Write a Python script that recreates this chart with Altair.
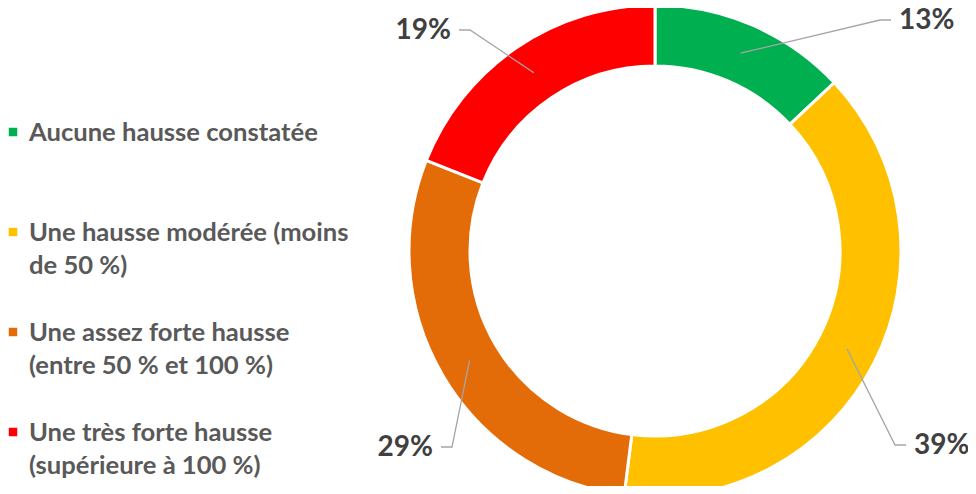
import math
import textwrap
import altair as alt
import pandas as pd

# ---- data ----
categories = [
    "Aucune hausse constatée",
    "Une hausse modérée (moins de 50 %)",
    "Une assez forte hausse (entre 50 % et 100 %)",
    "Une très forte hausse (supérieure à 100 %)",
]
values = [13, 39, 29, 19]
colors = ["#00B050", "#FFC000", "#E36C09", "#FF0000"]

# ---- layout / style ----
W, H = 960, 478
CX, CY = 647, 243          # donut centre (plot coords)
R_OUT, R_IN = 246, 185
R_MID = (245 + 186) / 2
FONT = "Lato"
LEG_FS, LAB_FS = 25.6, 28
LEG_X_SQ, LEG_X_TXT = 5, 21
LEG_BASE0, LEG_STEP = 133, 100
# elbow offsets of leader lines relative to centre (same order as values), run direction
ELBOWS = [(225, -231, 1), (240, 194, 1), (-203, 196, -1), (-185, -221, -1)]
RUN, GAP = 11, 8

df = pd.DataFrame({"cat": categories, "value": values, "idx": range(len(values))})

color_scale = alt.Scale(domain=categories, range=colors)
xs = alt.Scale(domain=[0, W], range=[0, W], nice=False, zero=False)
ys = alt.Scale(domain=[0, H], range=[0, H], nice=False, zero=False)

donut = alt.Chart(df).mark_arc(
    radius=R_OUT, radius2=R_IN, stroke="white", strokeWidth=3
).encode(
    theta=alt.Theta("value:Q", stack=True),
    order=alt.Order("idx:Q"),
    color=alt.Color("cat:N", scale=color_scale, legend=None),
    x=alt.value(CX),
    y=alt.value(CY),
)

# leader lines and labels computed from the values
total = sum(values)
rows, labs = [], []
cum = 0
for i, v in enumerate(values):
    mid = (cum + v / 2) / total * 2 * math.pi
    cum += v
    sx, sy = CX + R_MID * math.sin(mid), CY - R_MID * math.cos(mid)
    ex, ey, d = ELBOWS[i]
    ex, ey = CX + ex, CY + ey
    pts = [(sx, sy), (ex, ey), (ex + d * RUN, ey)]
    for k, (px, py) in enumerate(pts):
        rows.append({"seg": i, "k": k, "px": px, "py": py})
    labs.append({"px": ex + d * (RUN + GAP), "py": ey, "t": f"{v}%",
                 "align": "left" if d > 0 else "right"})
ldf = pd.DataFrame(rows)
tdf = pd.DataFrame(labs)

leaders = alt.Chart(ldf).mark_line(color="#A6A6A6", strokeWidth=1.3).encode(
    x=alt.X("px:Q", scale=xs, axis=None),
    y=alt.Y("py:Q", scale=ys, axis=None),
    detail="seg:N",
    order="k:Q",
)

def label_layer(side):
    return alt.Chart(tdf[tdf["align"] == side]).mark_text(
        font=FONT, fontSize=LAB_FS, fontWeight="bold", color="#404040",
        align=side, baseline="middle", dy=1
    ).encode(x=alt.X("px:Q", scale=xs, axis=None),
             y=alt.Y("py:Q", scale=ys, axis=None), text="t:N")

# legend
leg = df.copy()
leg["lines"] = [textwrap.fill(c, width=25, break_long_words=False) for c in categories]
leg["ly"] = [LEG_BASE0 + i * LEG_STEP for i in range(len(categories))]
leg["sy"] = leg["ly"] - 9

leg_sq = alt.Chart(leg).mark_square(size=72, opacity=1).encode(
    x=alt.value(LEG_X_SQ),
    y=alt.Y("sy:Q", scale=ys, axis=None),
    color=alt.Color("cat:N", scale=color_scale, legend=None),
)
leg_txt = alt.Chart(leg).mark_text(
    font=FONT, fontSize=LEG_FS, fontWeight="bold", color="#595959",
    align="left", baseline="alphabetic", lineBreak="\n", lineHeight=33
).encode(
    x=alt.value(LEG_X_TXT),
    y=alt.Y("ly:Q", scale=ys, axis=None),
    text="lines:N",
)

chart = alt.layer(donut, leaders, label_layer("left"), label_layer("right"),
                  leg_sq, leg_txt).properties(
    width=W, height=H, padding=0, autosize=alt.AutoSizeParams(type="none")
).configure_view(stroke=None)

chart.save("out.html", embed_options={"renderer": "svg", "actions": False})
